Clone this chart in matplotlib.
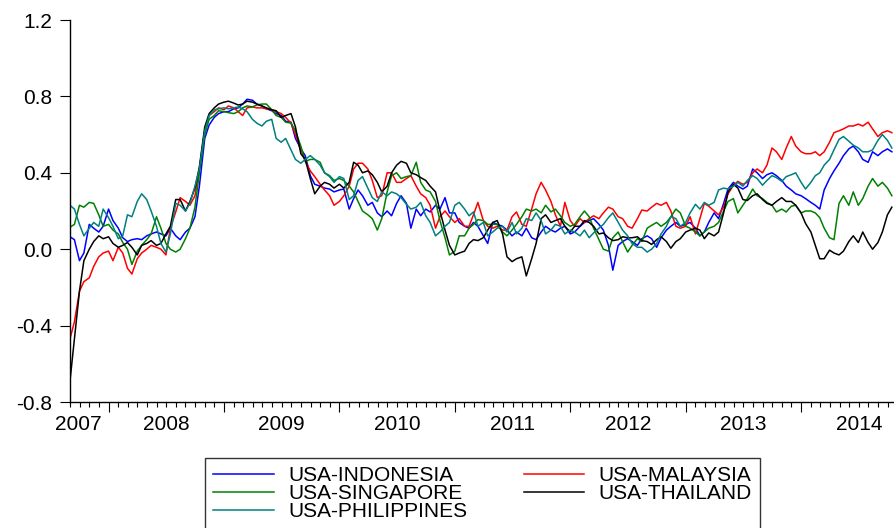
import numpy as np
import pandas as pd
import matplotlib
matplotlib.use("Agg")
import matplotlib.pyplot as plt
from matplotlib.ticker import FixedLocator, NullFormatter

plt.rcParams['font.family'] = ['Liberation Sans', 'DejaVu Sans']

# semi-monthly sampling dates
dates = pd.date_range('2007-09-01', '2014-10-15', freq='SMS')

indonesia = [
    0.065, 0.05, -0.06, -0.02, 0.13, 0.11, 0.09, 0.12, 0.21, 0.15,
    0.11, 0.06, 0.04, 0.05, 0.055, 0.05, 0.07, 0.08, 0.09, 0.08,
    0.07, 0.11, 0.07, 0.05, 0.09, 0.11, 0.17, 0.33, 0.58, 0.65,
    0.69, 0.71, 0.72, 0.72, 0.735, 0.74, 0.76, 0.785, 0.78, 0.76,
    0.75, 0.735, 0.725, 0.71, 0.70, 0.67, 0.665, 0.58, 0.525, 0.49,
    0.385, 0.34, 0.33, 0.32, 0.315, 0.30, 0.31, 0.315, 0.21, 0.265,
    0.31, 0.28, 0.23, 0.245, 0.19, 0.17, 0.20, 0.175, 0.24, 0.28,
    0.24, 0.11, 0.21, 0.175, 0.21, 0.195, 0.23, 0.21, 0.27, 0.19,
    0.19, 0.14, 0.12, 0.11, 0.14, 0.12, 0.07, 0.03, 0.14, 0.13,
    0.12, 0.10, 0.07, 0.09, 0.07, 0.11, 0.06, 0.05, 0.09, 0.12,
    0.10, 0.09, 0.11, 0.12, 0.08, 0.09, 0.12, 0.14, 0.15, 0.16,
    0.13, 0.10, 0.02, -0.11, 0.02, 0.04, 0.055, 0.04, 0.02, 0.055,
    0.07, 0.055, 0.01, 0.06, 0.10, 0.12, 0.14, 0.12, 0.13, 0.14,
    0.11, 0.07, 0.09, 0.14, 0.19, 0.16, 0.24, 0.315, 0.35, 0.33,
    0.315, 0.33, 0.42, 0.40, 0.37, 0.39, 0.40, 0.385, 0.36, 0.33,
    0.31, 0.29, 0.28, 0.265, 0.245, 0.23, 0.21, 0.31, 0.37, 0.41,
    0.45, 0.49, 0.525, 0.54, 0.51, 0.47, 0.455, 0.51, 0.49, 0.51,
    0.525, 0.51]

malaysia = [
    -0.47, -0.38, -0.22, -0.17, -0.15, -0.09, -0.04, -0.02, -0.01, -0.06,
    0.01, -0.02, -0.10, -0.13, -0.05, -0.02, 0.0, 0.02, 0.01, 0.0,
    -0.03, 0.11, 0.195, 0.27, 0.25, 0.23, 0.28, 0.42, 0.62, 0.70,
    0.72, 0.74, 0.73, 0.75, 0.74, 0.72, 0.70, 0.74, 0.745, 0.74,
    0.74, 0.735, 0.73, 0.72, 0.71, 0.69, 0.66, 0.60, 0.525, 0.46,
    0.41, 0.38, 0.34, 0.31, 0.28, 0.23, 0.25, 0.28, 0.33, 0.42,
    0.45, 0.45, 0.42, 0.36, 0.27, 0.28, 0.40, 0.40, 0.35, 0.35,
    0.37, 0.385, 0.33, 0.29, 0.27, 0.23, 0.11, 0.17, 0.20, 0.17,
    0.14, 0.16, 0.12, 0.12, 0.18, 0.245, 0.15, 0.12, 0.11, 0.12,
    0.10, 0.10, 0.17, 0.195, 0.13, 0.12, 0.21, 0.29, 0.35, 0.31,
    0.25, 0.18, 0.12, 0.245, 0.15, 0.12, 0.16, 0.14, 0.16, 0.175,
    0.16, 0.19, 0.22, 0.21, 0.17, 0.16, 0.12, 0.11, 0.16, 0.205,
    0.20, 0.22, 0.24, 0.23, 0.245, 0.20, 0.12, 0.11, 0.12, 0.17,
    0.08, 0.16, 0.24, 0.225, 0.20, 0.18, 0.22, 0.29, 0.335, 0.355,
    0.34, 0.35, 0.40, 0.42, 0.40, 0.44, 0.53, 0.51, 0.47, 0.53,
    0.59, 0.54, 0.51, 0.50, 0.50, 0.51, 0.49, 0.51, 0.56, 0.61,
    0.62, 0.63, 0.645, 0.645, 0.655, 0.645, 0.665, 0.63, 0.59, 0.61,
    0.62, 0.61]

singapore = [
    0.115, 0.13, 0.23, 0.22, 0.245, 0.24, 0.18, 0.12, 0.13, 0.10,
    0.08, 0.035, 0.0, -0.08, -0.01, 0.02, 0.05, 0.08, 0.17, 0.11,
    0.03, 0.0, -0.015, 0.0, 0.055, 0.11, 0.22, 0.40, 0.60, 0.68,
    0.70, 0.725, 0.72, 0.715, 0.71, 0.72, 0.74, 0.75, 0.745, 0.755,
    0.76, 0.76, 0.73, 0.70, 0.69, 0.665, 0.66, 0.62, 0.54, 0.46,
    0.47, 0.47, 0.455, 0.40, 0.385, 0.36, 0.37, 0.36, 0.33, 0.30,
    0.25, 0.20, 0.18, 0.16, 0.10, 0.16, 0.30, 0.385, 0.40, 0.37,
    0.38, 0.385, 0.455, 0.35, 0.31, 0.30, 0.25, 0.15, 0.06, -0.03,
    -0.01, 0.07, 0.07, 0.11, 0.13, 0.155, 0.15, 0.13, 0.13, 0.13,
    0.09, 0.07, 0.10, 0.13, 0.17, 0.21, 0.20, 0.21, 0.19, 0.23,
    0.195, 0.21, 0.175, 0.14, 0.12, 0.13, 0.17, 0.20, 0.17, 0.11,
    0.05, 0.0, -0.01, 0.06, 0.09, 0.04, -0.015, 0.02, 0.055, 0.04,
    0.11, 0.125, 0.14, 0.12, 0.14, 0.17, 0.21, 0.19, 0.12, 0.11,
    0.09, 0.07, 0.09, 0.11, 0.12, 0.14, 0.20, 0.25, 0.265, 0.19,
    0.23, 0.265, 0.315, 0.28, 0.265, 0.245, 0.23, 0.195, 0.21, 0.195,
    0.225, 0.23, 0.19, 0.20, 0.20, 0.19, 0.165, 0.11, 0.06, 0.05,
    0.24, 0.28, 0.23, 0.30, 0.23, 0.265, 0.33, 0.37, 0.33, 0.35,
    0.32, 0.28]

thailand = [
    -0.69, -0.47, -0.22, -0.06, 0.0, 0.04, 0.07, 0.055, 0.065, 0.03,
    0.01, 0.02, 0.035, 0.01, -0.03, 0.02, 0.03, 0.045, 0.02, 0.03,
    0.08, 0.12, 0.26, 0.26, 0.20, 0.25, 0.32, 0.43, 0.64, 0.71,
    0.74, 0.76, 0.77, 0.775, 0.765, 0.755, 0.76, 0.775, 0.77, 0.76,
    0.75, 0.74, 0.73, 0.725, 0.69, 0.70, 0.71, 0.64, 0.50, 0.47,
    0.37, 0.29, 0.33, 0.35, 0.34, 0.32, 0.34, 0.32, 0.35, 0.455,
    0.44, 0.40, 0.41, 0.39, 0.35, 0.30, 0.33, 0.40, 0.44, 0.46,
    0.45, 0.40, 0.39, 0.375, 0.36, 0.33, 0.30, 0.20, 0.10, 0.02,
    -0.03, -0.02, -0.01, 0.03, 0.05, 0.045, 0.06, 0.10, 0.14, 0.15,
    0.08, -0.04, -0.065, -0.05, -0.04, -0.14, -0.05, 0.03, 0.16, 0.18,
    0.14, 0.15, 0.16, 0.12, 0.09, 0.12, 0.12, 0.15, 0.14, 0.12,
    0.08, 0.085, 0.06, 0.045, 0.05, 0.065, 0.06, 0.06, 0.065, 0.045,
    0.04, 0.025, 0.05, 0.065, 0.04, 0.005, 0.04, 0.055, 0.09, 0.10,
    0.11, 0.10, 0.055, 0.085, 0.07, 0.09, 0.19, 0.30, 0.34, 0.32,
    0.26, 0.255, 0.28, 0.29, 0.26, 0.24, 0.23, 0.25, 0.27, 0.25,
    0.25, 0.23, 0.19, 0.135, 0.09, 0.02, -0.05, -0.05, -0.005, -0.02,
    -0.03, -0.01, 0.04, 0.07, 0.035, 0.09, 0.035, 0.0, 0.035, 0.09,
    0.18, 0.22]

philippines = [
    0.23, 0.21, 0.13, 0.07, 0.11, 0.14, 0.12, 0.21, 0.165, 0.12,
    0.055, 0.07, 0.18, 0.17, 0.25, 0.29, 0.26, 0.20, 0.12, 0.03,
    -0.015, 0.08, 0.24, 0.23, 0.20, 0.24, 0.33, 0.42, 0.62, 0.70,
    0.73, 0.735, 0.74, 0.735, 0.74, 0.745, 0.735, 0.72, 0.68, 0.66,
    0.645, 0.67, 0.68, 0.58, 0.56, 0.58, 0.52, 0.47, 0.45, 0.47,
    0.49, 0.47, 0.44, 0.40, 0.38, 0.35, 0.38, 0.37, 0.26, 0.28,
    0.36, 0.38, 0.32, 0.27, 0.25, 0.30, 0.28, 0.30, 0.29, 0.27,
    0.235, 0.21, 0.22, 0.245, 0.175, 0.14, 0.07, 0.09, 0.12, 0.14,
    0.23, 0.245, 0.21, 0.175, 0.195, 0.12, 0.14, 0.07, 0.09, 0.11,
    0.12, 0.09, 0.14, 0.08, 0.11, 0.16, 0.15, 0.19, 0.15, 0.08,
    0.10, 0.13, 0.12, 0.08, 0.10, 0.09, 0.07, 0.10, 0.06, 0.085,
    0.11, 0.13, 0.165, 0.19, 0.14, 0.10, 0.07, 0.03, 0.01, 0.01,
    -0.015, 0.0, 0.03, 0.08, 0.12, 0.17, 0.16, 0.12, 0.14, 0.19,
    0.235, 0.21, 0.245, 0.23, 0.245, 0.31, 0.32, 0.315, 0.33, 0.35,
    0.33, 0.36, 0.385, 0.37, 0.335, 0.36, 0.385, 0.375, 0.355, 0.38,
    0.39, 0.40, 0.35, 0.315, 0.35, 0.385, 0.40, 0.44, 0.47, 0.52,
    0.575, 0.59, 0.565, 0.545, 0.53, 0.51, 0.51, 0.52, 0.57, 0.60,
    0.57, 0.53]

labels = ['USA-INDONESIA', 'USA-MALAYSIA', 'USA-SINGAPORE', 'USA-THAILAND', 'USA-PHILIPPINES']
colors = ['#0000ff', '#ff0000', '#008000', '#000000', '#008080']
series = [indonesia, malaysia, singapore, thailand, philippines]

year_ticks = [2008, 2009, 2010, 2011, 2012, 2013, 2014]
year_labels = ['2007', '2008', '2009', '2010', '2011', '2012', '2013', '2014']
y_ticks = [-0.8, -0.4, 0.0, 0.4, 0.8, 1.2]


def frac_year(d):
    start = pd.Timestamp(year=d.year, month=1, day=1)
    end = pd.Timestamp(year=d.year + 1, month=1, day=1)
    return d.year + (d - start) / (end - start)


t = np.array([frac_year(d) for d in dates])

W, H = 894, 528
fig = plt.figure(figsize=(W / 100, H / 100), dpi=100)
ax = fig.add_axes([70 / W, (H - 402) / H, (W - 70) / W, (402 - 20) / H])

lines = {}
for lab, col, vals in zip(labels, colors, series):
    ln, = ax.plot(t, vals, color=col, lw=1.1, label=lab)
    lines[lab] = ln

ax.set_xlim(2007.666, 2014.805)
ax.set_ylim(-0.8, 1.2)

ax.spines['top'].set_visible(False)
ax.spines['right'].set_visible(False)
ax.spines['left'].set_linewidth(1.0)
ax.spines['bottom'].set_linewidth(1.0)

ax.set_yticks(y_ticks)
ax.set_yticklabels(['%.1f' % v for v in y_ticks])
ax.tick_params(axis='y', direction='out', length=7, width=0.8, pad=6, labelsize=15)

ax.xaxis.set_major_locator(FixedLocator(year_ticks))
ax.xaxis.set_major_formatter(NullFormatter())
months = [y + m / 12 for y in range(2007, 2015) for m in range(12)
          if 2007.666 <= y + m / 12 <= 2014.805]
ax.xaxis.set_minor_locator(FixedLocator(months))
ax.tick_params(axis='x', which='major', direction='out', length=7, width=0.8)
ax.tick_params(axis='x', which='minor', direction='out', length=3.5, width=0.8)

label_pos = [2007.74] + [y + 0.5 for y in range(2008, 2015)]
for xp, lab in zip(label_pos, year_labels):
    ax.text(xp, -0.866, lab, ha='center', va='top', fontsize=15,
            transform=ax.transData, clip_on=False)

order = ['USA-INDONESIA', 'USA-SINGAPORE', 'USA-PHILIPPINES', 'USA-MALAYSIA', 'USA-THAILAND']
leg = ax.legend([lines[k] for k in order], order, ncol=2, loc='upper left',
                bbox_to_anchor=(205 / W, 1 - 458 / H), bbox_transform=fig.transFigure,
                fontsize=15, frameon=True, fancybox=False, edgecolor='black',
                handlelength=2.9, handletextpad=0.7, columnspacing=2.7,
                labelspacing=-0.06, borderaxespad=0.0, borderpad=0.4)
leg.get_frame().set_linewidth(1.0)

fig.savefig('out.png', dpi=100)
